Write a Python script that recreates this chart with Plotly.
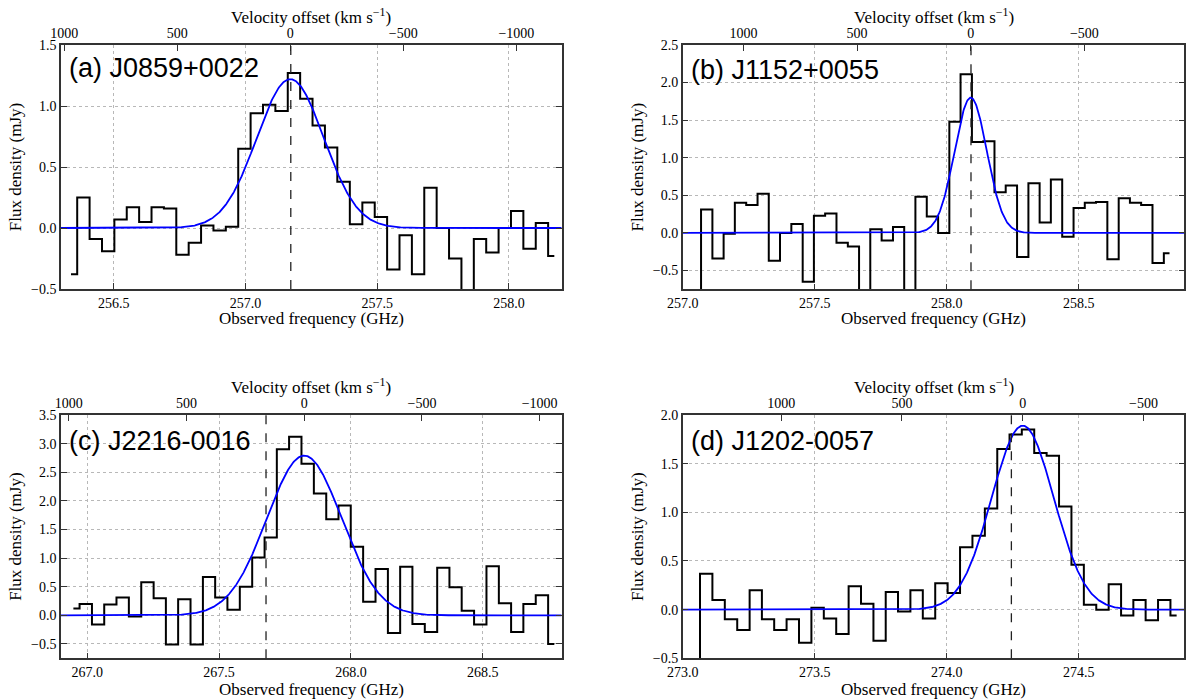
import numpy as np
import plotly.graph_objects as go

C_KMS = 299792.458

# ---------------- data ----------------
names = ["(a) J0859+0022", "(b) J1152+0055", "(c) J2216-0016", "(d) J1202-0057"]

freq_a = [256.338, 256.385, 256.432, 256.479, 256.526, 256.573, 256.620, 256.667, 256.714, 256.761,
          256.808, 256.855, 256.902, 256.949, 256.996, 257.043, 257.090, 257.137, 257.184, 257.231,
          257.278, 257.325, 257.372, 257.420, 257.467, 257.514, 257.561, 257.608, 257.655, 257.702,
          257.749, 257.796, 257.843, 257.890, 257.937, 257.984, 258.031, 258.078, 258.125, 258.172]
flux_a = [-0.38, 0.25, -0.09, -0.19, 0.07, 0.17, 0.05, 0.17, 0.16, -0.22,
          -0.12, 0.02, -0.02, 0.01, 0.65, 0.94, 1.01, 0.96, 1.27, 1.06,
          0.84, 0.66, 0.38, 0.03, 0.21, 0.09, -0.34, -0.06, -0.38, 0.33,
          0.00, -0.25, -0.62, -0.09, -0.20, 0.00, 0.14, -0.17, 0.04, -0.23]

freq_b = [257.048, 257.091, 257.134, 257.176, 257.219, 257.262, 257.305, 257.347, 257.390, 257.433,
          257.476, 257.518, 257.561, 257.604, 257.647, 257.689, 257.732, 257.775, 257.818, 257.860,
          257.903, 257.946, 257.989, 258.031, 258.074, 258.117, 258.160, 258.202, 258.245, 258.288,
          258.331, 258.373, 258.416, 258.459, 258.502, 258.544, 258.587, 258.630, 258.673, 258.715,
          258.758, 258.801, 258.844]
flux_b = [-0.95, 0.31, -0.34, -0.01, 0.40, 0.37, 0.52, -0.37, 0.00, 0.12,
          -0.65, 0.23, 0.26, -0.13, -0.18, -0.95, 0.05, -0.10, 0.08, -0.95,
          0.48, 0.22, 0.00, 1.48, 2.11, 1.21, 1.22, 0.54, 0.63, -0.32,
          0.66, 0.14, 0.71, -0.05, 0.33, 0.40, 0.41, -0.35, 0.46, 0.40,
          0.37, -0.40, -0.27]

freq_c = [266.947, 266.994, 267.041, 267.087, 267.134, 267.181, 267.228, 267.275, 267.321, 267.368,
          267.415, 267.462, 267.508, 267.555, 267.602, 267.649, 267.696, 267.742, 267.789, 267.836,
          267.883, 267.930, 267.976, 268.023, 268.070, 268.117, 268.164, 268.210, 268.257, 268.304,
          268.351, 268.397, 268.444, 268.491, 268.538, 268.585, 268.631, 268.678, 268.725, 268.772]
flux_c = [0.12, 0.20, -0.16, 0.19, 0.31, -0.02, 0.58, 0.30, -0.51, 0.28,
          -0.51, 0.67, 0.31, 0.10, 0.50, 1.01, 1.36, 2.90, 3.12, 2.65,
          2.13, 1.68, 1.92, 1.20, 0.24, 0.81, -0.31, 0.85, -0.15, -0.29,
          0.83, 0.49, 0.08, -0.16, 0.86, 0.21, -0.29, 0.20, 0.35, -0.50]

freq_d = [273.042, 273.089, 273.136, 273.183, 273.230, 273.277, 273.323, 273.370, 273.417, 273.464,
          273.511, 273.558, 273.605, 273.652, 273.699, 273.746, 273.792, 273.839, 273.886, 273.933,
          273.980, 274.027, 274.074, 274.121, 274.168, 274.215, 274.261, 274.308, 274.355, 274.402,
          274.449, 274.496, 274.543, 274.590, 274.637, 274.684, 274.730, 274.777, 274.824, 274.871]
flux_d = [-0.80, 0.37, 0.10, -0.10, -0.21, 0.20, -0.10, -0.21, -0.10, -0.34,
          0.02, -0.09, -0.25, 0.24, 0.06, -0.32, 0.18, -0.02, 0.20, -0.09,
          0.27, 0.17, 0.64, 0.76, 1.04, 1.65, 1.80, 1.85, 1.61, 1.58,
          1.06, 0.46, 0.05, 0.00, 0.26, -0.06, 0.10, -0.11, 0.10, -0.06]

# Gaussian fit parameters: amplitude (mJy), centre (GHz), sigma (GHz)
fit_amp = [1.22, 1.80, 2.79, 1.89]
fit_center = [257.170, 258.091, 267.823, 274.288]
fit_sigma = [0.127, 0.061, 0.142, 0.118]

# expected line frequency (dashed)
expected_freq = [257.172, 258.092, 267.678, 274.245]

# axis ranges
x_ranges = [[256.3, 258.2], [257.0, 258.9], [266.9, 268.8], [273.0, 274.9]]
y_ranges = [[-0.5, 1.5], [-0.75, 2.5], [-0.75, 3.5], [-0.5, 2.0]]

freqs = [freq_a, freq_b, freq_c, freq_d]
fluxes = [flux_a, flux_b, flux_c, flux_d]

# ---------------- layout geometry (pixels) ----------------
W, H = 1188, 699
px_x = [(61, 561.7), (682.7, 1184.3), (61, 561.7), (682.7, 1184.3)]
px_y = [(45, 289), (45, 289.3), (415, 658.3), (415, 658.3)]
bottom_title_y = [318, 318, 689, 689]
top_title_y = [16, 16, 386, 386]

SERIF = "Times New Roman, Liberation Serif, serif"
SANS = "Liberation Sans, Arial, sans-serif"
FRAME = "#333333"
GRID = "#b8b8b8"
TITLE_SIZE = 17

fig = go.Figure()
layout = dict(width=W, height=H, margin=dict(l=0, r=0, t=0, b=0, autoexpand=False),
              paper_bgcolor="white", plot_bgcolor="white", showlegend=False,
              font=dict(family=SERIF, color="black"))
annotations = []
shapes = []

for i in range(4):
    n = i + 1
    xid = "x" if n == 1 else f"x{n}"
    yid = "y" if n == 1 else f"y{n}"
    vid = f"x{n + 4}"
    xr, yr = x_ranges[i], y_ranges[i]
    x0p, x1p = px_x[i]
    y0p, y1p = px_y[i]
    xdom = [x0p / W, x1p / W]
    ydom = [1 - y1p / H, 1 - y0p / H]

    # data histogram (step, mid)
    fig.add_trace(go.Scatter(x=freqs[i], y=fluxes[i], mode="lines",
                             line=dict(color="black", width=2, shape="hvh"),
                             xaxis=xid, yaxis=yid, hoverinfo="skip"))
    # Gaussian model
    fx = np.linspace(xr[0], xr[1], 800)
    fy = fit_amp[i] * np.exp(-0.5 * ((fx - fit_center[i]) / fit_sigma[i]) ** 2)
    fig.add_trace(go.Scatter(x=fx, y=fy, mode="lines",
                             line=dict(color="#0000ff", width=1.8),
                             xaxis=xid, yaxis=yid, hoverinfo="skip"))
    # velocity axis (top), radio convention relative to fitted centre
    f0 = fit_center[i]
    v_range = [C_KMS * (f0 - xr[0]) / f0, C_KMS * (f0 - xr[1]) / f0]
    fig.add_trace(go.Scatter(x=[], y=[], mode="lines", xaxis=vid, yaxis=yid,
                             hoverinfo="skip", showlegend=False))

    common_tick = dict(ticks="inside", ticklen=6, tickwidth=1, tickcolor=FRAME,
                       tickfont=dict(family=SERIF, size=14, color="black"),
                       showline=True, linecolor=FRAME, linewidth=1.5, zeroline=False,
                       automargin=False)

    layout["xaxis" if n == 1 else f"xaxis{n}"] = dict(
        domain=xdom, anchor=yid, range=xr, dtick=0.5, tick0=0, tickformat=".1f",
        showgrid=True, gridcolor=GRID, griddash="dot", gridwidth=1,
        mirror=False, **common_tick)
    layout["yaxis" if n == 1 else f"yaxis{n}"] = dict(
        domain=ydom, anchor=xid, range=yr, dtick=0.5, tick0=0, tickformat=".1f",
        showgrid=True, gridcolor=GRID, griddash="dot", gridwidth=1,
        mirror="ticks",
        title=dict(text="Flux density (mJy)",
                   font=dict(family=SERIF, size=TITLE_SIZE, color="black"), standoff=5),
        **common_tick)
    layout[f"xaxis{n + 4}"] = dict(
        overlaying=xid, anchor=yid, side="top", range=v_range, dtick=500, tick0=0,
        showgrid=False, **common_tick)

    xc = (x0p + x1p) / 2 / W
    annotations.append(dict(text="Observed frequency (GHz)", xref="paper", yref="paper",
                            x=xc, y=1 - bottom_title_y[i] / H, xanchor="center", yanchor="middle",
                            showarrow=False,
                            font=dict(family=SERIF, size=TITLE_SIZE, color="black")))
    annotations.append(dict(text="Velocity offset (km s<sup>\u22121</sup>)", xref="paper", yref="paper",
                            x=xc, y=1 - top_title_y[i] / H, xanchor="center", yanchor="middle",
                            showarrow=False,
                            font=dict(family=SERIF, size=TITLE_SIZE, color="black")))

    # dashed expected-frequency line
    shapes.append(dict(type="line", xref=xid, yref=f"{yid} domain",
                       x0=expected_freq[i], x1=expected_freq[i], y0=0, y1=1,
                       line=dict(color="#222222", width=1.3, dash="dash")))
    # panel label
    label_y = [0.906, 0.898, 0.893, 0.893][i]
    annotations.append(dict(text=names[i], xref=f"{xid} domain", yref=f"{yid} domain",
                            x=0.012, y=label_y, xanchor="left", yanchor="middle",
                            showarrow=False, font=dict(family=SANS, size=27, color="black")))

layout["annotations"] = annotations
layout["shapes"] = shapes
fig.update_layout(**layout)
fig.write_html("out.html")
